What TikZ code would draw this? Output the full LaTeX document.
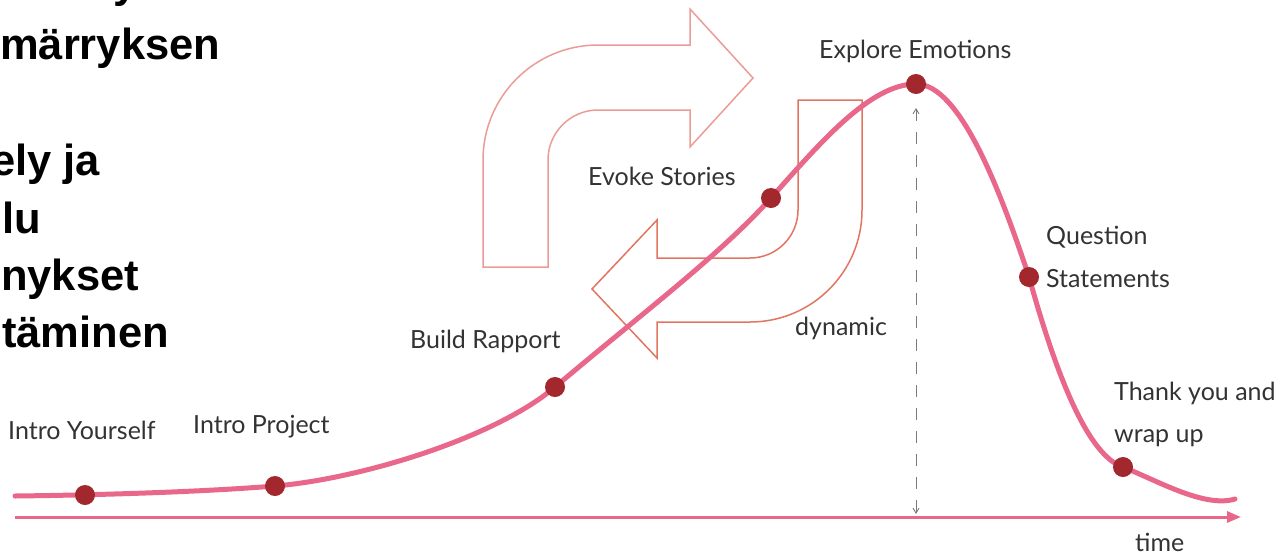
\documentclass[tikz,border=0pt]{standalone}
\usepackage{fontspec}
\setmainfont{Lato}
\newfontfamily\headfont{Liberation Sans}
\usetikzlibrary{arrows.meta}
\definecolor{curvepink}{HTML}{E8678A}
\definecolor{dotred}{HTML}{A3282D}
\definecolor{arrA}{HTML}{EB9C96}
\definecolor{arrB}{HTML}{E27561}
\definecolor{labelgray}{HTML}{333333}
\definecolor{dashgray}{HTML}{7A7A7A}
\tikzset{
  lbl/.style={anchor=base west, inner sep=0pt, text=labelgray, font=\fontsize{25}{29}\selectfont},
  head/.style={anchor=base west, inner sep=0pt, text=black, font=\headfont\bfseries\fontsize{43.5}{50}\selectfont},
  stagedot/.style={circle, fill=dotred, minimum size=20pt, inner sep=0pt},
  bigarrowA/.style={draw=arrA, line width=1.5pt, line join=miter},
  bigarrowB/.style={draw=arrB, line width=1.5pt, line join=miter},
}
\begin{document}
\begin{tikzpicture}[x=1pt,y=-1pt]
\path[use as bounding box] (0,0) rectangle (1281,555);
\clip (0,0) rectangle (1281,555);
\fill[white] (0,0) rectangle (1281,555);

% clipped heading text (left margin)
\node[head] (h1) at (-2,-3) {oe\hspace{26pt}my};
\node[head] (h2) at (0,59) {märryksen};
\node[head] (h3) at (-9,175) {ely ja};
\node[head] (h4) at (2,233) {lu};
\node[head] (h5) at (1,290) {nykset};
\node[head] (h6) at (2,347) {täminen};

% circular arrows
\draw[bigarrowA] (483,267) -- (483,160) .. controls (483,96.5) and (534.5,45) .. (598,45)
  -- (690,45) -- (690,9) -- (753,78) -- (690,147) -- (690,110) -- (598,110)
  .. controls (570.4,110) and (548,132.4) .. (548,160) -- (548,267) -- cycle;
\draw[bigarrowB] (862,100) -- (862,210) .. controls (862,271.9) and (811.9,322) .. (750,322)
  -- (657,322) -- (657,358) -- (592,289) -- (657,220) -- (657,258) -- (750,258)
  .. controls (776.5,258) and (798,236.5) .. (798,210) -- (798,100) -- cycle;

% time axis
\coordinate (axs) at (15,517);
\coordinate (axe) at (1241,517);
\draw[curvepink, line width=3pt, -{Triangle[length=14pt,width=11pt]}] (axs) -- (axe);

% dashed amplitude marker
\coordinate (dtop) at (916,108);
\coordinate (dbot) at (916,514);
\draw[dashgray, line width=0.9pt, dash pattern=on 12pt off 11pt,
  {Straight Barb[length=5pt,width=6pt]}-{Straight Barb[length=5pt,width=6pt]}] (dtop) -- (dbot);

% stage points
\coordinate (p0) at (15,496);
\coordinate (p1) at (85,495);
\coordinate (p2) at (275,486);
\coordinate (p3) at (555,387);
\coordinate (p4) at (771,198);
\coordinate (p5) at (916,84);
\coordinate (p6) at (1029,277);
\coordinate (p7) at (1123,467);
\coordinate (p8) at (1235,499);

% curve
\draw[curvepink, line width=5pt, line cap=round]
  (p0) .. controls (100,495) and (200,492) .. (p2)
       .. controls (360,479) and (495,438) .. (p3)
       .. controls (640,315) and (720,255) .. (p4)
       .. controls (820,143) and (870,84) .. (p5)
       .. controls (960,84) and (1000,190) .. (p6)
       .. controls (1048,345) and (1082,454) .. (p7)
       .. controls (1160,482) and (1205,508) .. (p8);

% stage dots
\node[stagedot] (d1) at (p1) {};
\node[stagedot] (d2) at (p2) {};
\node[stagedot] (d3) at (p3) {};
\node[stagedot] (d4) at (p4) {};
\node[stagedot] (d5) at (p5) {};
\node[stagedot] (d6) at (p6) {};
\node[stagedot] (d7) at (p7) {};

% labels
\node[lbl] (l1) at (8,439) {Intro Yourself};
\node[lbl] (l2) at (193,433) {Intro Project};
\node[lbl] (l3) at (410,348) {Build Rapport};
\node[lbl] (l4) at (588,185) {Evoke Stories};
\node[lbl] (l5) at (819,58) {Explore Emotions};
\node[lbl] (l6) at (795,335) {dynamic};
\node[lbl] (l7) at (1046,244) {Question};
\node[lbl] (l8) at (1046,287) {Statements};
\node[lbl] (l9) at (1114,400) {Thank you and};
\node[lbl] (l10) at (1114,442) {wrap up};
\node[lbl] (l11) at (1135,551) {time};
\end{tikzpicture}
\end{document}
